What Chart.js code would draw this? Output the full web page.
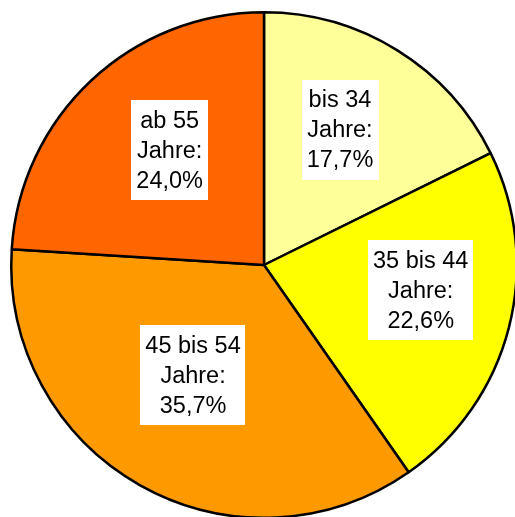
<!DOCTYPE html>
<html>
<head>
<meta charset="utf-8">
<script src="https://cdn.jsdelivr.net/npm/chart.js@4"></script>
<style>
  html, body { margin: 0; padding: 0; background: #fff; overflow: hidden; }
  #wrap { position: relative; width: 528px; height: 530px; }
</style>
</head>
<body>
<div id="wrap"><canvas id="pieChart"></canvas></div>
<script>
// Age groups and shares (%)
const categories = ['bis 34', '35 bis 44', '45 bis 54', 'ab 55'];
const shares = [17.7, 22.6, 35.7, 24.0];
const labelTexts = [
  ['bis 34', 'Jahre:', '17,7%'],
  ['35 bis 44', 'Jahre:', '22,6%'],
  ['45 bis 54', 'Jahre:', '35,7%'],
  ['ab 55', 'Jahre:', '24,0%']
];
const sliceColors = ['#FFFF99', '#FFFF00', '#FF9900', '#FF6600'];

// draw the boxed labels inside each slice
const boxLabels = {
  id: 'boxLabels',
  afterDatasetsDraw(chart, args, opts) {
    const c = chart.ctx;
    const meta = chart.getDatasetMeta(0);
    c.save();
    c.font = '23.5px "Liberation Sans", Arial, sans-serif';
    c.textAlign = 'center';
    c.textBaseline = 'middle';
    meta.data.forEach((arc, i) => {
      // label sits near the middle of the slice, nudged a bit like the original
      const mid = (arc.startAngle + arc.endAngle) / 2 + opts.shift[i] * Math.PI / 180;
      const r = arc.outerRadius * opts.radius[i];
      const x = arc.x + Math.cos(mid) * r;
      const y = arc.y + Math.sin(mid) * r;
      const lines = labelTexts[i];
      const lh = 30;
      let w = 0;
      lines.forEach((l) => { w = Math.max(w, c.measureText(l).width); });
      const bw = w + 10;
      const bh = lines.length * lh + 10;
      c.fillStyle = '#fff';
      c.fillRect(Math.round(x - bw / 2), Math.round(y - bh / 2), Math.round(bw), bh);
      c.fillStyle = '#000';
      lines.forEach((l, k) => {
        c.fillText(l, x, y - ((lines.length - 1) / 2) * lh + k * lh + 1);
      });
    });
    c.restore();
  }
};

const ctx = document.getElementById('pieChart').getContext('2d');
new Chart(ctx, {
  type: 'pie',
  data: {
    labels: categories,
    datasets: [
      {
        data: shares,
        backgroundColor: sliceColors,
        borderColor: '#000',
        borderWidth: 2.5,
        hoverOffset: 0,
      },
    ],
  },
  options: {
    responsive: true,
    maintainAspectRatio: false,
    animation: false,
    layout: { padding: 10 },
    plugins: {
      legend: { display: false },
      tooltip: { enabled: false },
      boxLabels: {
        radius: [0.613, 0.628, 0.519, 0.588],
        shift: [-2.5, -5.3, 3.4, 3.8],
      },
    },
  },
  plugins: [boxLabels],
});
</script>
</body>
</html>
